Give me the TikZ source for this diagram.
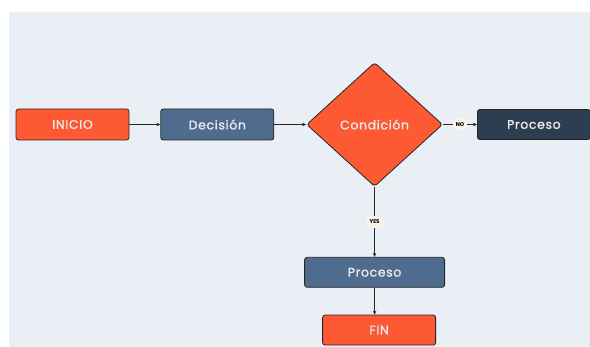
\documentclass[tikz,border=0pt]{standalone}
\usepackage{fontspec}
\usepackage{xcolor}
\usepackage{tikz}
\usetikzlibrary{positioning,shapes.geometric,arrows.meta}
\setmainfont{Poppins}
\newfontfamily\rotulo{Poppins}[LetterSpace=5,FakeBold=1.2]

\definecolor{fondo}{HTML}{EAEFF6}
\definecolor{naranja}{HTML}{FD5A34}
\definecolor{azul}{HTML}{4F6C8E}
\definecolor{oscuro}{HTML}{2C3E50}
\definecolor{crema}{HTML}{F7F3E6}

\begin{document}
\begin{tikzpicture}[x=1pt,y=1pt,line width=0.8pt,
   flecha/.style={draw=black!85,-{Stealth[length=4pt,width=3.5pt]}},
   caja/.style={rectangle,rounded corners=2.5pt,draw=black!85,text=white!92!black,
     minimum width=113pt,minimum height=31pt,inner sep=0pt,
     font=\rotulo\fontsize{12.5}{15}\selectfont},
   terminal/.style={caja,fill=naranja},
   paso/.style={caja,fill=azul},
   salida/.style={caja,fill=oscuro},
   pregunta/.style={diamond,draw=black!85,fill=naranja,rounded corners=3pt,
     minimum width=136pt,minimum height=124pt,inner sep=0pt,text=white!92!black,
     font=\rotulo\fontsize{12.5}{15}\selectfont},
   etiqueta/.style={fill=crema,inner sep=2.5pt,minimum height=12pt,
     font=\fontsize{5.5}{6}\selectfont\bfseries}]

  \useasboundingbox (0,0) rectangle (590,-347);
  \fill[white] (0,0) rectangle (590,-347);
  \fill[fondo] (9,-12) rectangle (590,-347);

  \node[terminal] (inicio) at (72.5,-124.5) {INICIO};
  \node[paso] (decision) [right=31pt of inicio] {Decisión};
  \node[pregunta] (cond) [right=32pt of decision] {Condición};
  \node[salida] (procder) [right=34pt of cond,minimum height=30pt] {Proceso};
  \node[paso] (procbajo) [below=70pt of cond,minimum width=140pt,minimum height=30pt] {Proceso};
  \node[terminal] (fin) [below=27pt of procbajo,xshift=4.5pt,minimum height=30pt] {FIN};

  \draw[flecha] (inicio) -- (decision);
  \draw[flecha] (decision) -- (cond);
  \draw[flecha] (cond) -- node[etiqueta] {NO} (procder);
  \draw[flecha] (cond) -- node[etiqueta] {YES} (procbajo);
  \draw[flecha] (procbajo) -- (procbajo |- fin.north);
\end{tikzpicture}
\end{document}
